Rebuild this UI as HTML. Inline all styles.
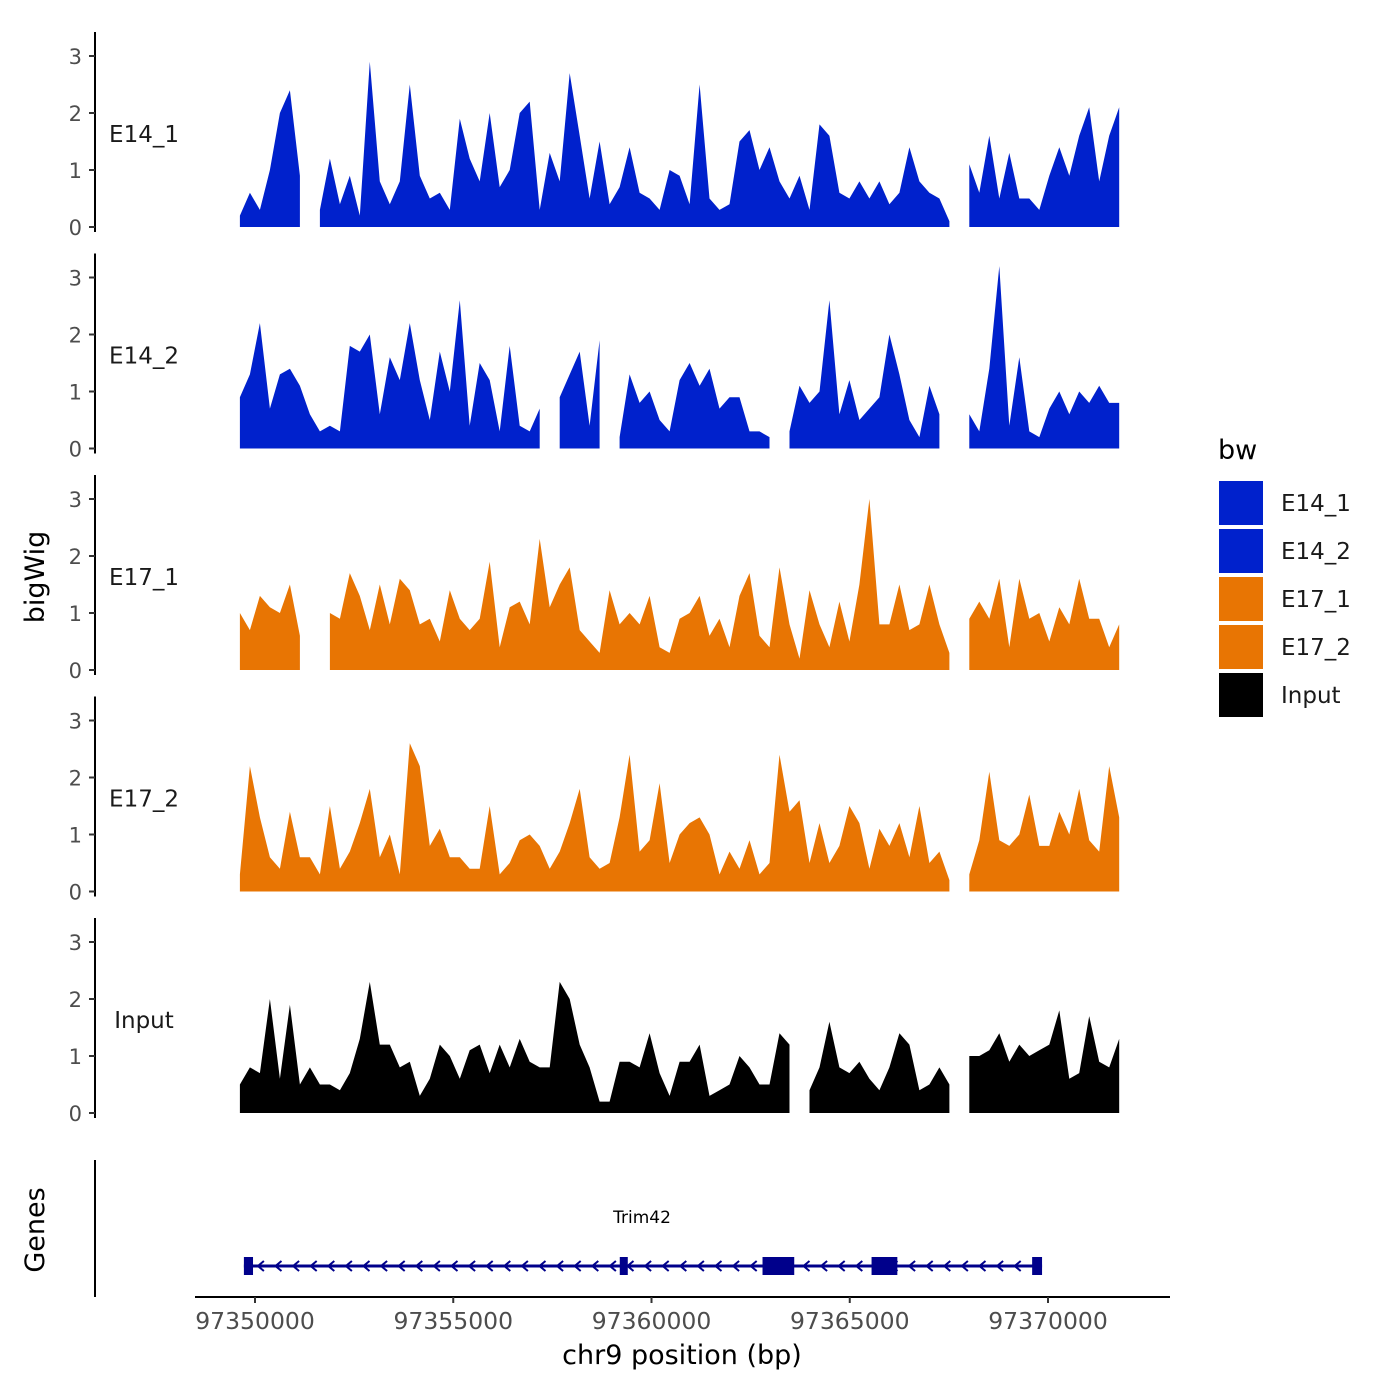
<!DOCTYPE html>
<html><head><meta charset="utf-8"><style>
body{margin:0;background:#fff}
svg{display:block;font-family:"DejaVu Sans","Liberation Sans",sans-serif}
</style></head><body>
<svg id="chart" width="1400" height="1400" viewBox="0 0 1400 1400">
<text x="44" y="577" font-size="27" text-anchor="middle" transform="rotate(-90 44 577)">bigWig</text>
<text x="44" y="1230" font-size="27" text-anchor="middle" transform="rotate(-90 44 1230)">Genes</text>
<text x="682" y="1364" font-size="27" text-anchor="middle">chr9 position (bp)</text>
<line x1="95" y1="1160" x2="95" y2="1297" stroke="#000" stroke-width="2"/>
<line x1="195" y1="1297" x2="1170" y2="1297" stroke="#000" stroke-width="2"/>
<g id="legend">
<text x="1218" y="459" font-size="27">bw</text>
</g>
</svg>
<script>
const tracks = ["E14_1","E14_2","E17_1","E17_2","Input"];
const colors = ["#0021cc","#0021cc","#e87503","#e87503","#000000"];
const startBp = 97349620;
const stepBp = 252;
const xTicks = [97350000,97355000,97360000,97365000,97370000];
const yTicks = [0,1,2,3];
const N = null;
const vE14_1 = [0.2,0.6,0.3,1.0,2.0,2.4,0.9,N,0.3,1.2,0.4,0.9,0.2,2.9,0.8,0.4,0.8,2.5,0.9,0.5,0.6,0.3,1.9,1.2,0.8,2.0,0.7,1.0,2.0,2.2,0.3,1.3,0.8,2.7,1.6,0.5,1.5,0.4,0.7,1.4,0.6,0.5,0.3,1.0,0.9,0.4,2.5,0.5,0.3,0.4,1.5,1.7,1.0,1.4,0.8,0.5,0.9,0.3,1.8,1.6,0.6,0.5,0.8,0.5,0.8,0.4,0.6,1.4,0.8,0.6,0.5,0.1,N,1.1,0.6,1.6,0.5,1.3,0.5,0.5,0.3,0.9,1.4,0.9,1.6,2.1,0.8,1.6,2.1];
const vE14_2 = [0.9,1.3,2.2,0.7,1.3,1.4,1.1,0.6,0.3,0.4,0.3,1.8,1.7,2.0,0.6,1.6,1.2,2.2,1.2,0.5,1.7,1.0,2.6,0.4,1.5,1.2,0.3,1.8,0.4,0.3,0.7,N,0.9,1.3,1.7,0.4,1.9,N,0.2,1.3,0.8,1.0,0.5,0.3,1.2,1.5,1.1,1.4,0.7,0.9,0.9,0.3,0.3,0.2,N,0.3,1.1,0.8,1.0,2.6,0.6,1.2,0.5,0.7,0.9,2.0,1.3,0.5,0.2,1.1,0.6,N,N,0.6,0.3,1.4,3.2,0.4,1.6,0.3,0.2,0.7,1.0,0.6,1.0,0.8,1.1,0.8,0.8];
const vE17_1 = [1.0,0.7,1.3,1.1,1.0,1.5,0.6,N,N,1.0,0.9,1.7,1.3,0.7,1.5,0.8,1.6,1.4,0.8,0.9,0.5,1.4,0.9,0.7,0.9,1.9,0.4,1.1,1.2,0.8,2.3,1.1,1.5,1.8,0.7,0.5,0.3,1.4,0.8,1.0,0.8,1.3,0.4,0.3,0.9,1.0,1.3,0.6,0.9,0.4,1.3,1.7,0.6,0.4,1.8,0.8,0.2,1.4,0.8,0.4,1.2,0.5,1.5,3.0,0.8,0.8,1.5,0.7,0.8,1.5,0.8,0.3,N,0.9,1.2,0.9,1.6,0.4,1.6,0.9,1.0,0.5,1.1,0.8,1.6,0.9,0.9,0.4,0.8];
const vE17_2 = [0.3,2.2,1.3,0.6,0.4,1.4,0.6,0.6,0.3,1.5,0.4,0.7,1.2,1.8,0.6,1.0,0.3,2.6,2.2,0.8,1.1,0.6,0.6,0.4,0.4,1.5,0.3,0.5,0.9,1.0,0.8,0.4,0.7,1.2,1.8,0.6,0.4,0.5,1.3,2.4,0.7,0.9,1.9,0.5,1.0,1.2,1.3,1.0,0.3,0.7,0.4,0.9,0.3,0.5,2.4,1.4,1.6,0.5,1.2,0.5,0.8,1.5,1.2,0.4,1.1,0.8,1.2,0.6,1.5,0.5,0.7,0.2,N,0.3,0.9,2.1,0.9,0.8,1.0,1.7,0.8,0.8,1.4,1.0,1.8,0.9,0.7,2.2,1.3];
const vInput = [0.5,0.8,0.7,2.0,0.6,1.9,0.5,0.8,0.5,0.5,0.4,0.7,1.3,2.3,1.2,1.2,0.8,0.9,0.3,0.6,1.2,1.0,0.6,1.1,1.2,0.7,1.2,0.8,1.3,0.9,0.8,0.8,2.3,2.0,1.2,0.8,0.2,0.2,0.9,0.9,0.8,1.4,0.7,0.3,0.9,0.9,1.2,0.3,0.4,0.5,1.0,0.8,0.5,0.5,1.4,1.2,N,0.4,0.8,1.6,0.8,0.7,0.9,0.6,0.4,0.8,1.4,1.2,0.4,0.5,0.8,0.5,N,1.0,1.0,1.1,1.4,0.9,1.2,1.0,1.1,1.2,1.8,0.6,0.7,1.7,0.9,0.8,1.3];
const geneName = "Trim42";
const geneStart = 97349720, geneEnd = 97369850;
const exonStarts = [97349720,97359200,97362800,97365550,97369600];
const exonEnds   = [97349950,97359400,97363600,97366200,97369850];

const NS="http://www.w3.org/2000/svg";
const svg=document.getElementById('chart');
const xs=bp=>255+(bp-97350000)*(1048-255)/20000;
const allVals=[vE14_1,vE14_2,vE17_1,vE17_2,vInput];
function mk(tag,attrs,parent){const e=document.createElementNS(NS,tag);for(const k in attrs)e.setAttribute(k,attrs[k]);(parent||svg).appendChild(e);return e;}
tracks.forEach((name,t)=>{
  const base=227+t*221.5, ys=v=>base-v*57;
  const g=mk('g',{});
  
  
  const ax=mk('line',{x1:95,y1:base-195,x2:95,y2:base+5,stroke:'#000','stroke-width':2},g);
  
  
  yTicks.forEach(v=>{
    mk('line',{x1:89,y1:ys(v),x2:95,y2:ys(v),stroke:'#333','stroke-width':2},g);
    const tx=mk('text',{x:82,y:ys(v)+8,'font-size':21,'text-anchor':'end',fill:'#4d4d4d'},g);
    tx.textContent=v;
    
    
  });
  const lab=mk('text',{x:144,y:base-85,'font-size':23,'text-anchor':'middle',fill:'#1a1a1a'},g);
  lab.textContent=name;
  
  
  const vals=allVals[t];
  let seg=[];
  const flush=()=>{ if(seg.length>1){
      let d='M'+seg[0][0]+','+base;
      seg.forEach(p=>d+=' L'+p[0]+','+p[1]);
      d+=' L'+seg[seg.length-1][0]+','+base+' Z';
      const p=mk('path',{d:d,fill:colors[t]},g);
      
      
    } seg=[]; };
  vals.forEach((v,i)=>{
    if(v===null){flush();return;}
    seg.push([xs(startBp+i*stepBp).toFixed(1),ys(v).toFixed(1)]);
  });
  flush();
});
xTicks.forEach(b=>{
  mk('line',{x1:xs(b),y1:1297,x2:xs(b),y2:1303,stroke:'#333','stroke-width':2});
  const t=mk('text',{x:xs(b),y:1329,'font-size':23.5,'text-anchor':'middle',fill:'#4d4d4d'});
  t.textContent=b;
  
  
});
const gy=1266;
const gl=mk('line',{x1:xs(geneStart),y1:gy,x2:xs(geneEnd),y2:gy,stroke:'#00008b','stroke-width':3});


for(let x=xs(geneStart)+16;x<xs(geneEnd)-8;x+=17.6){
  mk('polyline',{points:(x+4)+','+(gy-5)+' '+(x-2)+','+gy+' '+(x+4)+','+(gy+5),fill:'none',stroke:'#00008b','stroke-width':2});
}
exonStarts.forEach((s,i)=>{
  const r=mk('rect',{x:xs(s),y:gy-9,width:Math.max(8,xs(exonEnds[i])-xs(s)),height:18,fill:'#00008b'});
  
  
});
const gn=mk('text',{x:642,y:1223,'font-size':17,'text-anchor':'middle'});
gn.textContent=geneName;


const lg=document.getElementById('legend');
tracks.forEach((name,i)=>{
  const r=mk('rect',{x:1219,y:481+i*48,width:44,height:44,fill:colors[i]},lg);
  
  
  const t=mk('text',{x:1281,y:511+i*48,'font-size':23,fill:'#1a1a1a'},lg);
  t.textContent=name;
  
  
});
</script>
</body></html>
